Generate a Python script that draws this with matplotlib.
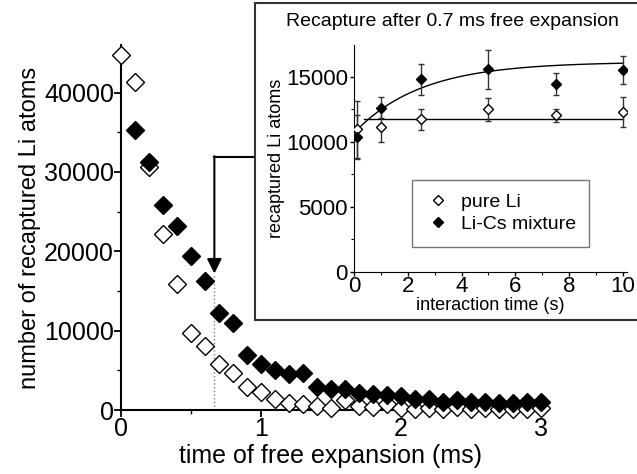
import matplotlib.pyplot as plt
import numpy as np
from matplotlib.patches import Rectangle
from matplotlib.ticker import MultipleLocator

plt.rcParams['font.family'] = ['Liberation Sans', 'DejaVu Sans']

# main plot: recaptured atoms vs time of free expansion
t_exp = [0.0, 0.1, 0.2, 0.3, 0.4, 0.5, 0.6, 0.7, 0.8, 0.9, 1.0,
         1.1, 1.2, 1.3, 1.4, 1.5, 1.6, 1.7, 1.8, 1.9, 2.0,
         2.1, 2.2, 2.3, 2.4, 2.5, 2.6, 2.7, 2.8, 2.9, 3.0]
pure_li = [44700, 41400, 30600, 22200, 15850, 9650, 8050, 5750, 4700, 2950, 2300,
           1400, 850, 750, 500, 300, 1300, 500, 400, 700, 200,
           100, 300, 100, 400, 100, 300, 100, 100, 100, 200]
t_mix = t_exp[1:]
li_cs = [35300, 31200, 25900, 23200, 19400, 16200, 12250, 11000, 6900, 5750,
         5100, 4550, 4700, 2950, 2650, 2650, 2100, 2000, 1900, 1750,
         1450, 1350, 1050, 1250, 1050, 1050, 850, 850, 1000, 1050]

# inset: recapture after 0.7 ms vs interaction time
t_int = [0.1, 1, 2.5, 5, 7.5, 10]
in_pure = [10950, 11150, 11720, 12490, 12030, 12310]
in_pure_err = [2200, 1200, 800, 870, 480, 1150]
in_mix = [10340, 12620, 14800, 15570, 14440, 15520]
in_mix_err = [1700, 800, 1200, 1500, 830, 1080]
pure_level = 11720
fit_a, fit_b, fit_tau = 16150, 5460, 2.5

fig = plt.figure(figsize=(6.37, 4.74), dpi=100)

ax = fig.add_axes([0.19, 0.135, 0.659, 0.77])
ax.plot(t_exp, pure_li, 'D', ms=9.5, mfc='white', mec='black', mew=1.0, clip_on=False, zorder=3)
ax.plot(t_mix, li_cs, 'D', ms=9.5, mfc='black', mec='black', clip_on=False, zorder=3)
ax.set_xlim(0, 3)
ax.set_ylim(0, 46000)
ax.xaxis.set_major_locator(MultipleLocator(1))
ax.xaxis.set_minor_locator(MultipleLocator(0.5))
ax.yaxis.set_major_locator(MultipleLocator(10000))
ax.yaxis.set_minor_locator(MultipleLocator(5000))
for s in ['top', 'right']:
    ax.spines[s].set_visible(False)
for s in ['left', 'bottom']:
    ax.spines[s].set_linewidth(1.5)
ax.tick_params(which='major', direction='out', length=5, width=1.3, labelsize=18, pad=0)
ax.tick_params(which='minor', direction='out', length=3, width=1.0)
ax.set_xlabel('time of free expansion (ms)', fontsize=18, labelpad=2)
ax.set_ylabel('number of recaptured Li atoms', fontsize=17, labelpad=2)

# arrow pointing at 0.7 ms
ax.plot([0.96, 0.667], [31900, 31900], color='black', lw=1.5, clip_on=False)
ax.annotate('', xy=(0.667, 17200), xytext=(0.667, 32000),
            arrowprops=dict(arrowstyle='-|>', color='black', lw=1.5,
                            mutation_scale=22, shrinkA=0, shrinkB=0))
ax.plot([0.667, 0.667], [0, 17200], color='gray', lw=1.0, ls=':')

# inset frame
fig.patches.append(Rectangle((255 / 637, 1 - 320 / 474), 400 / 637, 317 / 474,
                             transform=fig.transFigure, fill=True, facecolor='white',
                             edgecolor='#333333', lw=1.5, zorder=2))
fig.text(452 / 637, 1 - 22 / 474, 'Recapture after 0.7 ms free expansion',
         ha='center', va='center', fontsize=14, zorder=5)

ins = fig.add_axes([0.556, 0.427, 0.428, 0.478], zorder=4)
ins.patch.set_alpha(0)
tt = np.linspace(0.1, 10, 200)
ins.plot(tt, fit_a - fit_b * np.exp(-tt / fit_tau), color='black', lw=1.0)
ins.plot([0.35, 10], [pure_level, pure_level], color='black', lw=1.0)
ins.errorbar(t_int, in_pure, yerr=in_pure_err, fmt='D', ms=5, mfc='white', mec='black',
             ecolor='#333333', elinewidth=1.0, capsize=2.5, label='pure Li', zorder=3)
ins.errorbar(t_int, in_mix, yerr=in_mix_err, fmt='D', ms=5, mfc='black', mec='black',
             ecolor='#333333', elinewidth=1.0, capsize=2.5, label='Li-Cs mixture', zorder=3)
ins.set_xlim(0, 10.15)
ins.set_ylim(0, 17450)
ins.xaxis.set_major_locator(MultipleLocator(2))
ins.xaxis.set_minor_locator(MultipleLocator(1))
ins.yaxis.set_major_locator(MultipleLocator(5000))
ins.yaxis.set_minor_locator(MultipleLocator(2500))
for s in ['top', 'right']:
    ins.spines[s].set_visible(False)
ins.tick_params(which='major', direction='out', length=3, width=1.0, labelsize=16)
ins.tick_params(axis='x', which='major', pad=0)
ins.tick_params(axis='y', which='major', pad=1.5)
ins.tick_params(which='minor', direction='out', length=2, width=0.8)
ins.set_xlabel('interaction time (s)', fontsize=13, labelpad=0)
ins.set_ylabel('recaptured Li atoms', fontsize=13, labelpad=1)
h, l = ins.get_legend_handles_labels()
leg = ins.legend([hh[0] for hh in h], l, loc='lower left', bbox_to_anchor=(0.212, 0.109),
                 borderaxespad=0, fontsize=14, frameon=True, fancybox=False,
                 handletextpad=0.5, borderpad=0.7, labelspacing=0.25, handlelength=1.3)
leg.get_frame().set_edgecolor('#555555')
leg.get_frame().set_linewidth(1.0)

fig.savefig('out.png', dpi=100)
